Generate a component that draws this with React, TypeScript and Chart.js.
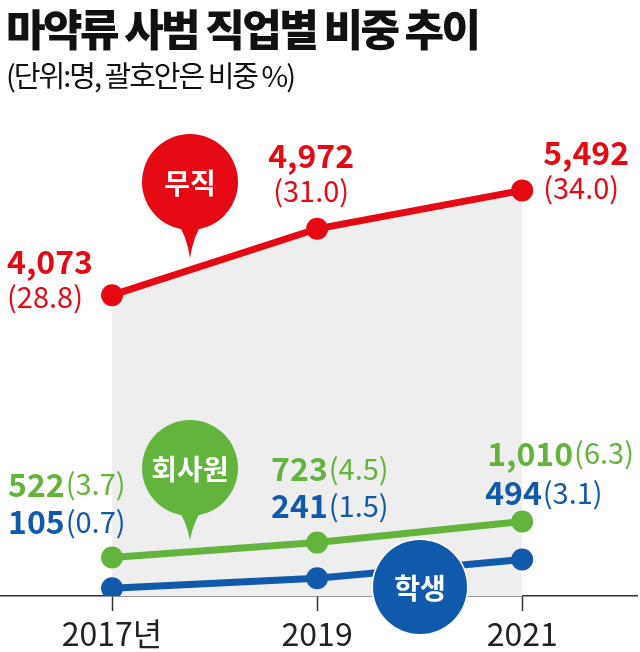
import React, { useEffect, useRef } from 'react';
import { Chart, registerables } from 'chart.js';

Chart.register(...registerables);

// ---- data ----
const years = [2017, 2019, 2021];
const tickLabels = ['2017년', '2019', '2021'];
const seriesNames = ['무직', '회사원', '학생'];
const jobless = [4073, 4972, 5492];
const joblessPct = [28.8, 31.0, 34.0];
const employee = [522, 723, 1010];
const employeePct = [3.7, 4.5, 6.3];
const student = [105, 241, 494];
const studentPct = [0.7, 1.5, 3.1];

// ---- style ----
const RED = '#e50914';
const GREEN = '#62b43c';
const BLUE = '#1159ab';
const FILL = '#eeeeee';
const FONT = "'Noto Sans CJK KR', 'Noto Sans', sans-serif";

const fmt = (v: number) => v.toLocaleString('en-US');
const pct = (v: number) => `(${v.toFixed(1)})`;

// label offsets relative to each point (px)
const redLabelLayout = [
  { align: 'left', dx: -105, vy: -33, py: 2 },
  { align: 'center', dx: -6, vy: -73, py: -38 },
  { align: 'left', dx: 21, vy: -38, py: -2 },
];
const greenLabelLayout = [
  { dx: -104, dy: -73 },
  { dx: -46, dy: -74 },
  { dx: -35, dy: -68 },
];
const blueLabelLayout = [
  { dx: -104, dy: -66 },
  { dx: -46, dy: -72 },
  { dx: -37, dy: -67 },
];
const bubbles = [
  { text: seriesNames[0], color: RED, cx: 190, cy: 182, r: 48, tip: 258 },
  { text: seriesNames[1], color: GREEN, cx: 190, cy: 468, r: 48, tip: 540 },
  { text: seriesNames[2], color: BLUE, cx: 420, cy: 587, r: 47, tip: 0 },
];

const overlayPlugin = {
  id: 'overlay',
  afterDatasetsDraw(chart: any) {
    const ctx: CanvasRenderingContext2D = chart.ctx;
    ctx.save();
    // bubbles
    bubbles.forEach((b) => {
      ctx.beginPath();
      ctx.arc(b.cx, b.cy, b.r, 0, Math.PI * 2);
      ctx.fillStyle = b.color;
      if (!b.tip) {
        ctx.lineWidth = 3;
        ctx.strokeStyle = '#ffffff';
        ctx.stroke();
      }
      ctx.fill();
      if (b.tip) {
        const by = b.cy + b.r;
        ctx.beginPath();
        ctx.moveTo(b.cx - 16, by - 14);
        ctx.quadraticCurveTo(b.cx - 3, by + 6, b.cx, b.tip);
        ctx.quadraticCurveTo(b.cx + 3, by + 6, b.cx + 16, by - 14);
        ctx.closePath();
        ctx.fill();
      }
      ctx.fillStyle = '#ffffff';
      ctx.font = `bold 28px ${FONT}`;
      ctx.textAlign = 'center';
      ctx.textBaseline = 'middle';
      ctx.fillText(b.text, b.cx, b.cy + 1);
    });

    // red labels (two lines)
    const m0 = chart.getDatasetMeta(0);
    m0.data.forEach((pt: any, i: number) => {
      const L = redLabelLayout[i];
      ctx.fillStyle = RED;
      ctx.textAlign = L.align as CanvasTextAlign;
      ctx.textBaseline = 'middle';
      ctx.font = `bold 32px ${FONT}`;
      ctx.fillText(fmt(jobless[i]), pt.x + L.dx, pt.y + L.vy);
      ctx.font = `29px ${FONT}`;
      ctx.fillText(pct(joblessPct[i]), pt.x + L.dx, pt.y + L.py);
    });

    // inline labels
    const inline = (metaIdx: number, vals: number[], pcts: number[], layout: any[], color: string) => {
      const m = chart.getDatasetMeta(metaIdx);
      m.data.forEach((pt: any, i: number) => {
        const L = layout[i];
        const x = pt.x + L.dx;
        const y = pt.y + L.dy;
        ctx.fillStyle = color;
        ctx.textAlign = 'left';
        ctx.textBaseline = 'middle';
        ctx.font = `bold 32px ${FONT}`;
        const s = fmt(vals[i]);
        ctx.fillText(s, x, y);
        const w = ctx.measureText(s).width;
        ctx.font = `29px ${FONT}`;
        ctx.fillText(pct(pcts[i]), x + w + 1, y);
      });
    };
    inline(1, employee, employeePct, greenLabelLayout, GREEN);
    inline(2, student, studentPct, blueLabelLayout, BLUE);
    ctx.restore();
  },
};

export default function App() {
  const ref = useRef<HTMLCanvasElement>(null);
  useEffect(() => {
    if (!ref.current) return;
    const mk = (vals: number[]) => years.map((y, i) => ({ x: y, y: vals[i] }));
    const line = (label: string, vals: number[], color: string, fill: any) => ({
      label,
      data: mk(vals),
      borderColor: color,
      backgroundColor: color,
      borderWidth: 7,
      pointRadius: 11,
      pointBorderWidth: 0,
      pointBackgroundColor: color,
      tension: 0,
      fill,
    });
    const chart = new Chart(ref.current, {
      type: 'line',
      data: {
        datasets: [
          line(seriesNames[0], jobless, RED, { target: 'origin', above: FILL }),
          line(seriesNames[1], employee, GREEN, false),
          line(seriesNames[2], student, BLUE, false),
        ] as any,
      },
      options: {
        animation: false,
        responsive: true,
        maintainAspectRatio: false,
        layout: { autoPadding: false, padding: { top: 79, left: 0, right: 3, bottom: -5 } },
        plugins: {
          legend: { display: false },
          tooltip: { enabled: false },
          filler: { drawTime: 'beforeDatasetsDraw' } as any,
        },
        scales: {
          x: {
            type: 'linear',
            min: 2015.907,
            max: 2022.12,
            afterBuildTicks: (axis: any) => {
              axis.ticks = years.map((v) => ({ value: v }));
            },
            ticks: {
              callback: (v: any) => tickLabels[years.indexOf(Number(v))] ?? '',
              color: '#222222',
              font: { family: FONT, size: 32, lineHeight: 1 },
              padding: 7,
              maxRotation: 0,
              autoSkip: false,
            },
            grid: {
              display: true,
              drawOnChartArea: false,
              drawTicks: true,
              tickLength: 15,
              tickColor: '#333333',
              tickWidth: 1.5,
            },
            border: { display: true, color: '#333333', width: 1.5 },
          },
          y: {
            display: false,
            min: 0,
            max: 7000,
          },
        },
      } as any,
      plugins: [overlayPlugin],
    });
    return () => chart.destroy();
  }, []);

  return (
    <div style={{ position: 'absolute', left: 0, top: 0, width: 640, height: 652, background: '#fff', overflow: 'hidden' }}>
      <canvas ref={ref} />
      <div
        style={{
          position: 'absolute',
          left: 6,
          top: 6,
          fontFamily: FONT,
          fontWeight: 900,
          fontSize: 43,
          lineHeight: '43px',
          color: '#111',
          letterSpacing: -2.6,
          whiteSpace: 'nowrap',
        }}
      >
        마약류 사범 직업별 비중 추이
      </div>
      <div
        style={{
          position: 'absolute',
          left: 6,
          top: 60,
          fontFamily: FONT,
          fontWeight: 400,
          fontSize: 29,
          lineHeight: '29px',
          color: '#111',
          letterSpacing: -2,
          whiteSpace: 'nowrap',
        }}
      >
        (단위:명, 괄호안은 비중 %)
      </div>
    </div>
  );
}
